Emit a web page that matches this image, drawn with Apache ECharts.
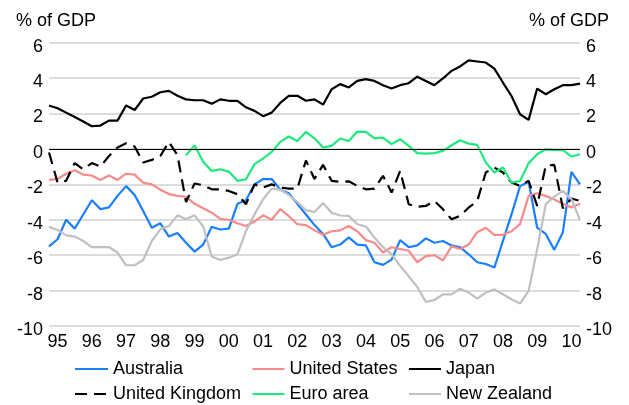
<!DOCTYPE html>
<html>
<head>
<meta charset="utf-8">
<script src="https://cdn.jsdelivr.net/npm/echarts@6/dist/echarts.min.js"></script>
<style>
  html, body { margin: 0; padding: 0; background: #fff; }
  #chart { width: 629px; height: 405px; }
</style>
</head>
<body>
<div id="chart"></div>
<script>
// Current account balances, quarterly, 1995Q1 to 2010Q3 (% of GDP)
const years = ['1995','1996','1997','1998','1999','2000','2001','2002','2003','2004','2005','2006','2007','2008','2009','2010'];
const quarters = ['Q1','Q2','Q3','Q4'];
const yearLabels = ['95','96','97','98','99','00','01','02','03','04','05','06','07','08','09','10'];
const lastYearQuarters = 3;

const australia = [-5.5,-5.1,-4.0,-4.5,-3.7,-2.9,-3.4,-3.3,-2.65,-2.1,-2.6,-3.5,-4.45,-4.2,-4.95,-4.75,
  -5.3,-5.8,-5.4,-4.4,-4.55,-4.5,-3.1,-2.9,-2.0,-1.7,-1.7,-2.3,-2.5,-3.1,-3.7,-4.3,
  -4.8,-5.55,-5.4,-5.0,-5.4,-5.45,-6.4,-6.55,-6.25,-5.15,-5.55,-5.45,-5.05,-5.3,-5.2,-5.45,
  -5.55,-5.95,-6.4,-6.5,-6.7,-5.2,-3.7,-2.1,-1.85,-4.45,-4.8,-5.7,-4.7,-1.3,-2.0];
const unitedStates = [-1.75,-1.7,-1.4,-1.2,-1.45,-1.5,-1.75,-1.5,-1.75,-1.4,-1.45,-1.9,-2.0,-2.3,-2.55,-2.65,
  -2.7,-3.1,-3.35,-3.6,-3.95,-4.0,-4.2,-4.35,-4.1,-3.75,-4.0,-3.4,-3.8,-4.25,-4.3,-4.6,
  -4.85,-4.65,-4.6,-4.35,-4.65,-5.15,-5.3,-5.85,-5.55,-5.65,-5.75,-6.4,-6.05,-6.0,-6.3,-5.5,
  -5.65,-5.4,-4.7,-4.45,-4.85,-4.85,-4.65,-4.25,-2.65,-2.5,-2.65,-2.85,-3.1,-3.3,-3.1];
const japan = [2.45,2.3,2.05,1.8,1.55,1.28,1.32,1.6,1.6,2.45,2.2,2.85,2.95,3.2,3.28,3.0,
  2.8,2.75,2.75,2.55,2.8,2.72,2.72,2.35,2.15,1.85,2.05,2.6,3.0,3.0,2.72,2.8,
  2.5,3.37,3.66,3.47,3.84,3.94,3.84,3.6,3.41,3.6,3.71,4.08,3.84,3.6,3.98,4.41,
  4.66,5.0,4.94,4.88,4.54,3.75,2.99,1.96,1.64,3.41,3.09,3.37,3.6,3.6,3.69];
const unitedKingdom = [-0.2,-1.9,-1.8,-0.8,-1.15,-0.8,-1.0,-0.4,0.08,0.32,0.14,-0.77,-0.62,-0.4,0.4,-0.36,
  -3.0,-1.95,-2.05,-2.28,-2.28,-2.37,-2.56,-3.12,-2.0,-2.18,-2.0,-2.18,-2.24,-2.24,-0.65,-1.7,
  -0.9,-1.8,-1.86,-1.83,-2.09,-2.28,-2.24,-1.52,-2.46,-1.24,-3.12,-3.27,-3.22,-2.94,-3.41,-3.97,
  -3.78,-3.31,-2.94,-1.33,-1.05,-1.33,-1.9,-2.09,-1.8,-3.22,-0.94,-0.9,-3.35,-2.8,-2.94];
const euroArea = [null,null,null,null,null,null,null,null,null,null,null,null,null,null,null,null,
  -0.36,0.2,-0.73,-1.24,-1.15,-1.28,-1.8,-1.71,-0.86,-0.54,-0.17,0.4,0.7,0.45,0.96,0.6,
  0.08,0.17,0.59,0.45,0.98,0.96,0.6,0.64,0.27,0.55,0.17,-0.24,-0.26,-0.24,-0.11,0.21,
  0.49,0.3,0.23,-0.77,-1.33,-1.05,-1.9,-1.81,-0.81,-0.3,-0.02,-0.07,-0.06,-0.43,-0.3];
const newZealand = [-4.4,-4.58,-4.88,-4.95,-5.2,-5.54,-5.54,-5.54,-5.85,-6.57,-6.57,-6.27,-5.2,-4.54,-4.35,-3.75,
  -3.97,-3.75,-4.38,-6.08,-6.27,-6.14,-5.95,-4.63,-3.69,-2.84,-2.24,-2.3,-2.6,-3.0,-3.46,-3.56,
  -3.05,-3.6,-3.76,-3.78,-4.25,-4.38,-5.0,-5.55,-5.95,-6.6,-7.2,-7.8,-8.64,-8.53,-8.21,-8.21,
  -7.89,-8.11,-8.45,-8.11,-7.93,-8.21,-8.49,-8.73,-8.02,-5.67,-3.12,-2.69,-2.37,-2.84,-4.01];

const yMin = -10, yMax = 6, yStep = 2;
const FONT = 'Liberation Sans, Arial, sans-serif';

// quarterly category names
const categories = [];
years.forEach((y, i) => {
  const n = i === years.length - 1 ? lastYearQuarters : 4;
  for (let q = 0; q < n; q++) categories.push(y + quarters[q]);
});

const chart = echarts.init(document.getElementById('chart'), null, { renderer: 'canvas' });

function line(name, data, color, extra) {
  return Object.assign({
    name: name,
    type: 'line',
    data: data,
    yAxisIndex: 0,
    symbol: 'none',
    smooth: false,
    connectNulls: false,
    animation: false,
    lineStyle: { color: color, width: 2.2 },
    itemStyle: { color: color }
  }, extra || {});
}

// y labels sit slightly below their gridlines
const axisLabelY = {
  fontFamily: FONT, fontSize: 18, color: '#000',
  formatter: function (v) { return '{v|' + v + '}'; },
  rich: { v: { fontFamily: FONT, fontSize: 18, color: '#000', padding: [8, 0, 0, 0] } }
};

function legendCol(left, names, itemWidth) {
  return {
    orient: 'vertical',
    left: left,
    top: 359,
    itemWidth: itemWidth,
    itemHeight: 14,
    itemGap: 5,
    padding: 0,
    selectedMode: false,
    itemStyle: { opacity: 0 },
    data: names,
    textStyle: { fontFamily: FONT, fontSize: 18, color: '#000', lineHeight: 20 }
  };
}

chart.setOption({
  animation: false,
  backgroundColor: '#fff',
  grid: { left: 49, right: 49, top: 42.7, bottom: 79, containLabel: false },
  graphic: [
    { type: 'text', left: 16, top: 12, style: { text: '% of GDP', fontFamily: FONT, fontSize: 18, fill: '#000' } },
    { type: 'text', right: 20, top: 12, style: { text: '% of GDP', fontFamily: FONT, fontSize: 18, fill: '#000' } }
  ],
  legend: [
    legendCol(74, ['Australia', 'United Kingdom'], 33),
    legendCol(251.5, ['United States', 'Euro area'], 32),
    legendCol(408, ['Japan', 'New Zealand'], 32)
  ],
  xAxis: {
    type: 'category',
    data: categories,
    boundaryGap: false,
    axisLine: { show: false },
    axisTick: { show: false },
    splitLine: { show: false },
    axisLabel: {
      interval: function (index) { return index % 4 === 1; },
      formatter: function (value) {
        return yearLabels[years.indexOf(value.slice(0, 4))];
      },
      fontFamily: FONT, fontSize: 18, color: '#000', margin: 7
    }
  },
  yAxis: [
    {
      type: 'value', min: yMin, max: yMax, interval: yStep, position: 'left',
      axisLine: { show: false }, axisTick: { show: false },
      splitLine: { show: true, lineStyle: { color: '#d0d0d0', width: 1.5 } },
      axisLabel: Object.assign({ margin: 6 }, axisLabelY)
    },
    {
      type: 'value', min: yMin, max: yMax, interval: yStep, position: 'right',
      axisLine: { show: false }, axisTick: { show: false },
      splitLine: { show: false },
      axisLabel: Object.assign({ margin: 6 }, axisLabelY)
    }
  ],
  series: [
    line('Australia', australia, '#1a7fff'),
    line('United States', unitedStates, '#f78a8a'),
    line('Japan', japan, '#000000', {
      markLine: {
        silent: true, symbol: 'none', animation: false,
        label: { show: false },
        lineStyle: { color: '#000', width: 1.2, type: 'solid' },
        data: [{ yAxis: 0 }]
      }
    }),
    line('United Kingdom', unitedKingdom, '#000000', { lineStyle: { color: '#000', width: 2.2, type: [12, 7] } }),
    line('Euro area', euroArea, '#1eea7c'),
    line('New Zealand', newZealand, '#c0c0c0')
  ]
});
</script>
</body>
</html>
